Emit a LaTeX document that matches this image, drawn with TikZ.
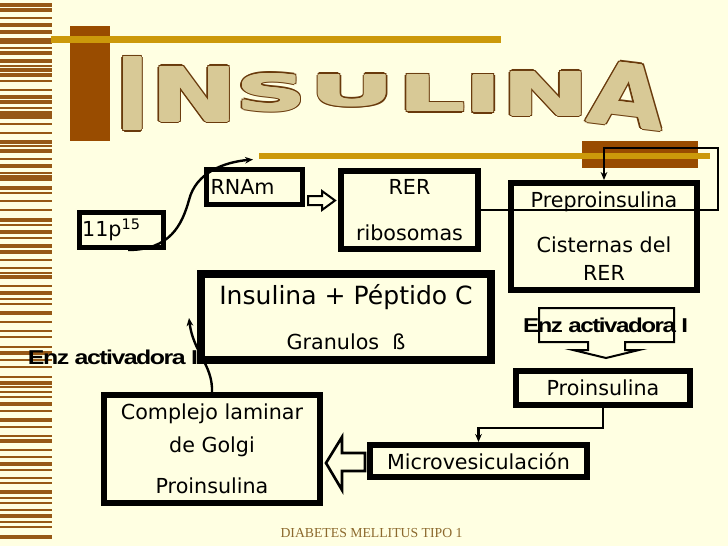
\documentclass[tikz,border=0pt]{standalone}
\usepackage{fontspec}
\usepackage{graphicx}
\usepackage{xcolor}
\setmainfont{DejaVu Sans}
\newfontfamily\artfont{DejaVu Sans}
\newfontfamily\enzfont{Liberation Sans}[LetterSpace=-6]
\newfontfamily\footfont{Liberation Serif}
\usetikzlibrary{calc,arrows.meta}

\definecolor{cream}{RGB}{255,255,226}
\definecolor{stripebrown}{RGB}{150,88,22}
\definecolor{barbrown}{RGB}{153,76,0}
\definecolor{gold}{RGB}{204,153,10}
\definecolor{artline}{RGB}{105,58,12}
\definecolor{artfill}{RGB}{216,201,150}
\definecolor{footbrown}{RGB}{140,105,45}

\newcommand{\bodyfont}{\fontsize{15.5}{19}\selectfont}
% one letter of the title: name, x, y, width, height, rotation, letter
\newcommand{\artletter}[7]{%
  \foreach \ox/\oy [count=\k] in {-2.5/0,2.5/0,0/-2.5,0/2.5,-1.8/-1.8,1.8/1.8,-1.8/1.8,1.8/-1.8}
    \node[inner sep=0pt, text=artline, rotate=#6] (#1o\k) at ({#2+\ox},{#3+\oy}) {\resizebox{#4}{#5}{\artfont\bfseries #7}};
  \foreach \ox/\oy [count=\k] in {-1/0,1/0,0/-1,0/1,-0.7/-0.7,0.7/0.7,-0.7/0.7,0.7/-0.7}
    \node[inner sep=0pt, text=artfill, rotate=#6] (#1f\k) at ({#2+\ox},{#3+\oy}) {\resizebox{#4}{#5}{\artfont\bfseries #7}};
  \node[inner sep=0pt, text=artfill, rotate=#6] (#1) at (#2,#3) {\resizebox{#4}{#5}{\artfont\bfseries #7}};
}

\begin{document}
\begin{tikzpicture}[x=0.75pt,y=0.75pt,yscale=-1,
  box/.style={draw=black, line width=4.5pt, inner sep=0pt, align=center, font=\bodyfont},
  thinbox/.style={box, line width=3.75pt},
  flow/.style={draw=black, line width=1.7pt, -{Stealth[length=6pt,width=5pt]}},
  curve/.style={draw=black, line width=1.8pt, -{Stealth[length=6pt,width=5pt]}},
  hollow/.style={draw=black, line width=1.5pt, fill=cream, line join=miter},
  enz/.style={inner sep=0pt, text=black}]
\useasboundingbox (0,0) rectangle (728,546);
\fill[cream] (0,0) rectangle (728,546);

%Stripes on the left
\foreach \sy in {5,25,32,42,53,61,70,75,97,102,113,117,142,151,166,177,188,220,232,246,252,277,293,313,353,383,404,420,441,464,492,516,537}
  \fill[stripebrown] (0,{\sy-1.75}) rectangle (52,{\sy+1.75});
\foreach \sy in {9,11,18,39,48,66,81,90,108,124,133,146,159,173,180,193,201,210,225,238,260,268,273,286,299,304,322,331,337,347,360,367,377,387,392,397,411,427,436,450,457,470,478,483,498,503,510,522,527}
  \fill[stripebrown] (0,{\sy-0.65}) rectangle (52,{\sy+0.65});

%Title bars
\fill[barbrown] (70,26) rectangle (110,141);
\fill[barbrown] (582,141) rectangle (698,168);
\draw[gold, line width=4.9pt] (51,39.5) -- (501,39.5);
\draw[gold, line width=4.5pt] (259,156) -- (710,156);

%Title
\artletter{ti}{132.5}{93.5}{24.75pt}{54pt}{0}{I}
\artletter{tn}{194.5}{94}{64.5pt}{40.5pt}{0}{N}
\artletter{ts}{271.5}{92.5}{52.5pt}{27pt}{0}{S}
\artletter{tu}{352.5}{90.5}{63.75pt}{22.5pt}{0}{U}
\artletter{tl}{432}{93}{50.25pt}{26.25pt}{0}{L}
\artletter{tii}{483.5}{93.5}{28.1pt}{27pt}{0}{I}
\artletter{tnn}{546}{93.5}{65.25pt}{32.25pt}{0}{N}
\artletter{ta}{627.5}{95}{56.6pt}{46.5pt}{-7}{A}

%Boxes
\node[thinbox, minimum width=63pt, minimum height=26.25pt, text width=59pt, align=left] (p11) at (121.5,230) {11p\textsuperscript{15}};
\node[thinbox, minimum width=72pt, minimum height=26.25pt, text width=66pt, align=left] (rnam) at (254.5,187) {RNAm};
\node[box, minimum width=102.75pt, minimum height=58.5pt] (rer) at (409.5,210) {RER\\[15.5pt]ribosomas};
\node[box, minimum width=139.5pt, minimum height=80.25pt] (prepro) at (604,236.5) {Preproinsulina\\[14.75pt]Cisternas del\\[2pt]RER};
\node[box, line width=6pt, minimum width=217.5pt, minimum height=64.5pt, font=\fontsize{18.8}{22}\selectfont] (insul) at (346,317) {Insulina + Péptido C\\[11.75pt]{\bodyfont Granulos\ \ ß}};
\node[box, minimum width=130.5pt, minimum height=25.5pt] (proins) at (603,388) {Proinsulina};
\node[box, minimum width=162.75pt, minimum height=24pt] (micro) at (478.5,461) {Microvesiculación};
\node[box, minimum width=162pt, minimum height=81pt] (golgi) at (212,449) {Complejo laminar\\[5.75pt]de Golgi\\[11.75pt]Proinsulina};

%Connectors
\coordinate (loopr) at (718,148);
\draw[curve] ($(p11.south)+(6.5,0)$) .. controls (170,250) and (182,225) .. (189,200) .. controls (196,172) and (225,162) .. ($(rnam.north)+(-1.5,-7.5)$);
\draw[hollow] (308,196) -- (322,196) -- (322,191) -- (335,200.5) -- (322,210) -- (322,205) -- (308,205) -- cycle;
\draw[flow] (rer.east) -| (loopr) -| (prepro.north);
\draw[flow] (proins.south) -- ++(0,20) -| (micro.north);
\draw[hollow, line width=2pt] (365,453) -- (342,453) -- (342,437) -- (326,463) -- (342,490) -- (342,471) -- (365,471) -- cycle;
\draw[curve] (golgi.north) .. controls (213,365) and (193,352) .. ($(insul.west)+(-8,1)$);

%Enzyme labels
\draw[hollow] (539,308) -- (674,308) -- (674,342) -- (625,342) -- (625,350) -- (639,350) -- (606,358) -- (573,350) -- (588,350) -- (588,342) -- (539,342) -- cycle;
\node[enz] (enzr) at (605.5,325) {\resizebox{123.75pt}{10.9pt}{\enzfont\bfseries Enz activadora I}};
\node[enz] (enzl) at (113,357) {\resizebox{127.5pt}{10.9pt}{\enzfont\bfseries Enz activadora I}};

%Footer
\node[inner sep=0pt, text=footbrown, font=\footfont\fontsize{10.3}{12}\selectfont] (foot) at (371.5,533) {DIABETES MELLITUS TIPO 1};
\end{tikzpicture}
\end{document}
